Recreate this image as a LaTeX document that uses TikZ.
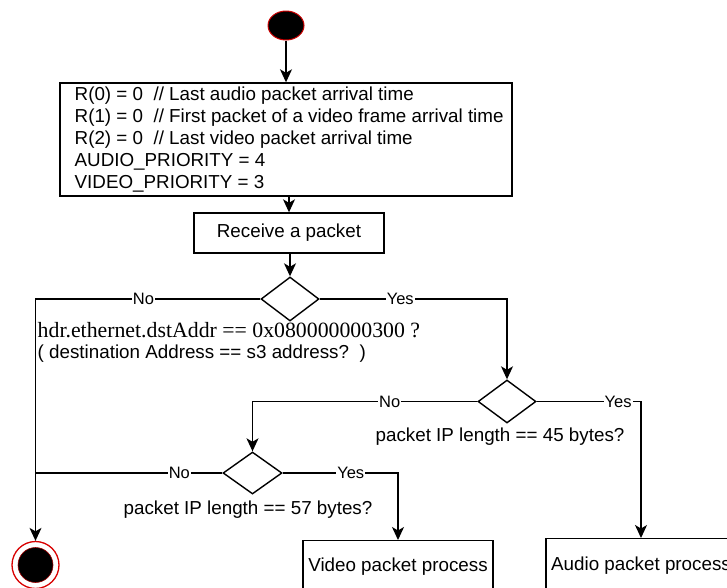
\documentclass[tikz,border=0pt]{standalone}
\usepackage{fontspec}
\setmainfont{Liberation Sans}
\newfontfamily\serifface{Liberation Serif}
\usetikzlibrary{shapes.geometric,arrows.meta}
\begin{document}
\begin{tikzpicture}[x=1pt,y=-1pt,
  line width=1.4pt,
  flow/.style={-{Stealth[length=13pt,width=12pt,inset=3.5pt]}},
  plain/.style={line width=1.4pt},
  box/.style={draw, rectangle, inner sep=0pt, font=\fontsize{18.8}{22}\selectfont},
  dec/.style={draw, diamond, inner sep=0pt, minimum width=58pt, minimum height=44pt},
  lbl/.style={fill=white, inner sep=1pt, font=\fontsize{16.5}{18}\selectfont},
  cond/.style={font=\fontsize{18.8}{22}\selectfont, inner sep=0pt}
]
\useasboundingbox (0,0) rectangle (727,587);
\clip (0,0) rectangle (727,587);

% start
\node[ellipse, draw=red!80!black, fill=black, line width=1pt, minimum width=36pt, minimum height=29pt, inner sep=0pt] (start) at (286,25.5) {};

% init box
\node[box, minimum width=452pt, minimum height=113pt] (init) at (286,139.5) {};
\node[anchor=west, inner sep=0pt, align=left, font=\fontsize{18.8}{22}\selectfont] (inittext) at (74,140)
  {R(0) = 0~~// Last audio packet arrival time\\
   R(1) = 0~~// First packet of a video frame arrival time\\
   R(2) = 0~~// Last video packet arrival time\\
   AUDIO\_PRIORITY = 4\\
   VIDEO\_PRIORITY = 3};

% receive
\node[box, minimum width=190pt, minimum height=40pt] (recv) at (289,233) {Receive a packet};

% decisions
\node[dec] (d1) at (290,299) {};
\node[dec, minimum height=43pt] (d2) at (507,401.5) {};
\node[dec, minimum width=59pt, minimum height=42pt] (d3) at (252.5,473) {};

% condition texts
\node[anchor=base west, inner sep=0pt, font=\serifface\fontsize{21.8}{24}\selectfont] (t1) at (37,337)
  {hdr.ethernet.dstAddr == 0x080000000300 ?};
\node[cond, anchor=base west] (t1b) at (37,358) {( destination Address == s3 address?~~)};
\node[cond] (t2) at (500,437) {packet IP length == 45 bytes?};
\node[cond] (t3) at (248,510) {packet IP length == 57 bytes?};

% process boxes
\node[box, anchor=north, minimum width=190pt, minimum height=52pt] (video) at (398,540) {Video packet process};
\node[box, anchor=north, minimum width=190pt, minimum height=54pt] (audio) at (641,538) {Audio packet process};

% end
\node[circle, draw=red!85!black, fill=white, line width=1.3pt, minimum size=47pt, inner sep=0pt] (end) at (35.5,565) {};
\node[circle, fill=black, draw=red!60!black, line width=0.6pt, minimum size=35pt, inner sep=0pt] (endin) at (end.center) {};

% coordinates
\coordinate (L1) at (35.5,299);
\coordinate (L3) at (35.5,473);
\coordinate (R1) at (507,299);
\coordinate (L2) at (252.5,401.5);
\coordinate (R2) at (641,401.5);
\coordinate (R3) at (398,473);

% connectors
\draw[flow] (start) -- (start |- init.north);
\draw[flow] (init.south -| recv.north) -- (recv.north);
\draw[flow] (recv.south -| d1.north) -- (d1.north);
\draw[flow] (d1.west) -- node[lbl, pos=0.52] {No} (L1) -- (end.north);
\draw[flow] (d1.east) -- node[lbl, pos=0.43] {Yes} (R1) -- (d2.north);
\draw[flow] (d2.west) -- node[lbl, pos=0.39] {No} (L2) -- (d3.north);
\draw[flow] (d2.east) -- node[lbl, pos=0.78] {Yes} (R2) -- (audio.north);
\draw[plain] (d3.west) -- node[lbl, pos=0.23] {No} (L3);
\draw[flow] (d3.east) -- node[lbl, pos=0.59] {Yes} (R3) -- (video.north);
\end{tikzpicture}
\end{document}
